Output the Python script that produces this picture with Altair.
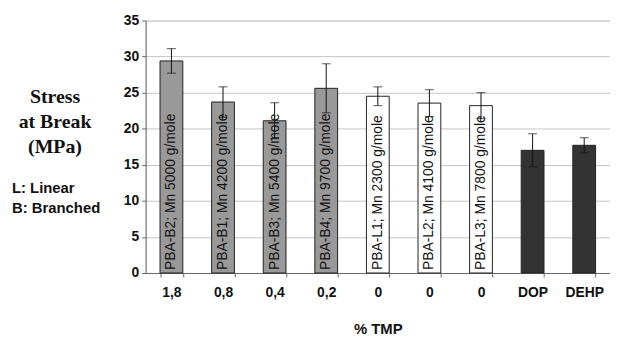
import altair as alt
import pandas as pd

samples = ["PBA-B2", "PBA-B1", "PBA-B3", "PBA-B4", "PBA-L1", "PBA-L2", "PBA-L3", "DOP", "DEHP"]
tmp_labels = ["1,8", "0,8", "0,4", "0,2", "0", "0", "0", "DOP", "DEHP"]
bar_text = ["PBA-B2; Mn 5000 g/mole", "PBA-B1; Mn 4200 g/mole", "PBA-B3; Mn 5400 g/mole",
            "PBA-B4; Mn 9700 g/mole", "PBA-L1; Mn 2300 g/mole", "PBA-L2; Mn 4100 g/mole",
            "PBA-L3; Mn 7800 g/mole", "", ""]
kinds = ["B", "B", "B", "B", "L", "L", "L", "ref", "ref"]
stress = [29.4, 23.7, 21.1, 25.6, 24.5, 23.55, 23.2, 17.0, 17.7]
err = [1.7, 2.1, 2.5, 3.4, 1.3, 1.85, 1.8, 2.3, 1.05]
y_ticks = [0, 5, 10, 15, 20, 25, 30, 35]

df = pd.DataFrame({
    "sample": samples, "tmp": tmp_labels, "label": bar_text, "kind": kinds,
    "stress": stress, "lo": [s - e for s, e in zip(stress, err)], "hi": [s + e for s, e in zip(stress, err)],
})

sample_js = "[" + ",".join("'%s'" % s for s in samples) + "]"
tmp_js = "[" + ",".join("'%s'" % s for s in tmp_labels) + "]"
label_expr = "%s[indexof(%s, datum.value)]" % (tmp_js, sample_js)

x_axis = alt.Axis(title="% TMP", labelExpr=label_expr, labelAngle=0, tickBand="extent",
                  labelFont="Liberation Sans", labelFontWeight="bold", labelFontSize=14,
                  labelColor="#111", labelPadding=9, tickSize=4, tickColor="#666",
                  domainColor="#666", titleFont="Liberation Sans", titleFontSize=15,
                  titleFontWeight="bold", titleColor="#111", titlePadding=22, grid=False)
x_scale = alt.Scale(paddingInner=0.56, paddingOuter=0.28)
y_axis = alt.Axis(values=y_ticks, title=["Stress", "at Break", "(MPa)"],
                  titleAngle=0, titleAlign="center", titleBaseline="middle",
                  titleX=-92, titleY=77, titleLineHeight=25,
                  titleFont="Liberation Serif", titleFontSize=20, titleFontWeight="bold",
                  titleColor="#111", labelOverlap=False,
                  labelFont="Liberation Sans", labelFontWeight="bold", labelFontSize=14,
                  labelColor="#111", labelPadding=3, tickSize=4, tickColor="#666",
                  domainColor="#666", gridColor="#c4c4c4", gridWidth=1)
y_scale = alt.Scale(domain=[0, 35], nice=False)


def X():
    return alt.X("sample:N", sort=samples, scale=x_scale, axis=x_axis)


def Y(field):
    return alt.Y(field, type="quantitative", scale=y_scale, axis=y_axis)


base = alt.Chart(df)

bars = base.mark_bar(size=23, stroke="#222", strokeWidth=1).encode(
    x=X(), y=Y("stress"),
    color=alt.Color("kind:N", scale=alt.Scale(domain=["B", "L", "ref"],
                                              range=["#999999", "#ffffff", "#333333"]), legend=None),
)

rules = base.mark_rule(color="#111", strokeWidth=1).encode(x=X(), y=Y("lo"), y2="hi:Q")
caps_hi = base.mark_tick(color="#111", thickness=1, size=9).encode(x=X(), y=Y("hi"))
caps_lo = base.mark_tick(color="#111", thickness=1, size=9).encode(x=X(), y=Y("lo"))

texts = base.mark_text(angle=270, align="left", baseline="middle", dx=3,
                       font="Liberation Sans", fontSize=14, color="#111").encode(
    x=X(), y=alt.value(255), text="label:N")

notes = alt.Chart(pd.DataFrame({"t": ["L: Linear\nB: Branched"]})).mark_text(
    lineBreak="\n", lineHeight=20, align="left", baseline="middle",
    font="Liberation Sans", fontSize=15, fontWeight="bold", color="#111").encode(
    x=alt.value(-135), y=alt.value(169), text="t:N")

chart = alt.layer(bars, rules, caps_hi, caps_lo, texts, notes).properties(
    width=469, height=255,
    autosize=alt.AutoSizeParams(type="none"),
    padding={"left": 139, "top": 11, "right": 0, "bottom": 62},
).configure_view(stroke=None).configure(background="white")

chart.save("out.html", embed_options={"renderer": "svg", "actions": False})
